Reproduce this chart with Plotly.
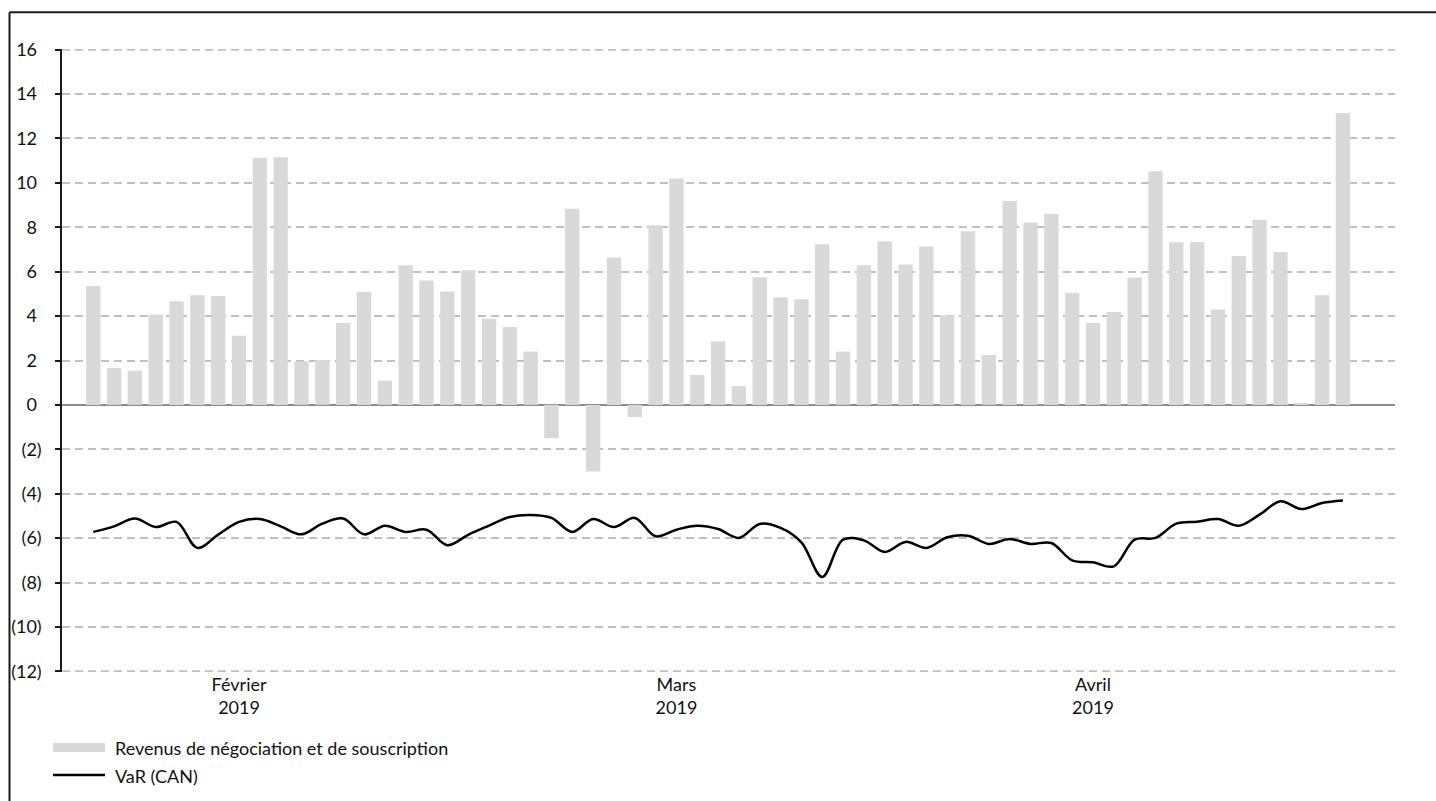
import pandas as pd
import plotly.graph_objects as go

# Trading days (Canada) Feb-Apr 2019: weekdays minus Family Day and Good Friday
jours = [d.strftime("%Y-%m-%d") for d in pd.bdate_range("2019-02-01", "2019-04-30")
         if d.strftime("%Y-%m-%d") not in ("2019-02-18", "2019-04-19")]

revenus = [5.35, 1.66, 1.54, 4.07, 4.67, 4.94, 4.91, 3.12, 11.13, 11.15,
           1.96, 2.02, 3.69, 5.09, 1.09, 6.29, 5.60, 5.11, 6.07, 3.88,
           3.51, 2.40, -1.50, 8.84, -3.00, 6.64, -0.55, 8.09, 10.20, 1.35,
           2.86, 0.85, 5.75, 4.85, 4.76, 7.24, 2.40, 6.29, 7.37, 6.32,
           7.13, 4.03, 7.82, 2.25, 9.18, 8.22, 8.61, 5.05, 3.69, 4.19,
           5.74, 10.52, 7.33, 7.33, 4.30, 6.71, 8.34, 6.89, 0.06, 4.94,
           13.15]

var_can = [-5.72, -5.47, -5.12, -5.50, -5.27, -6.44, -5.84, -5.27, -5.14, -5.47,
           -5.83, -5.35, -5.12, -5.83, -5.44, -5.72, -5.62, -6.32, -5.85, -5.44,
           -5.05, -4.96, -5.09, -5.72, -5.14, -5.50, -5.09, -5.92, -5.62, -5.44,
           -5.59, -5.99, -5.36, -5.54, -6.19, -7.75, -6.07, -6.10, -6.62, -6.17,
           -6.44, -5.96, -5.89, -6.26, -6.04, -6.26, -6.22, -7.00, -7.09, -7.27,
           -6.07, -5.99, -5.35, -5.26, -5.14, -5.44, -4.94, -4.34, -4.69, -4.42,
           -4.31]

mois_vals = ["2019-02-12", "2019-03-14", "2019-04-11"]
mois_text = ["Février<br>2019", "Mars<br>2019", "Avril<br>2019"]

y_vals = list(range(-12, 17, 2))
y_text = [f"({abs(v)})" if v < 0 else f"{v}\u00a0" for v in y_vals]

serie_barres = "Revenus de négociation et de souscription"
serie_ligne = "VaR (CAN)"

W, H = 1436, 801
ML, MR, MT, MB = 62, 41, 49, 129
PW, PH = W - ML - MR, H - MT - MB

def px_x(p):
    return (p - ML) / PW

def px_y(p):
    return (H - MB - p) / PH

FONT = "Lato"
FS = 18
TXT = "#111111"
GRID = dict(color="#c0c0c0", width=2, dash="8px,5px")

fig = go.Figure()
fig.add_trace(go.Bar(x=jours, y=revenus, name=serie_barres, marker_color="#d9d9d9",
                     marker_line_width=0, width=0.69, showlegend=False))
fig.add_trace(go.Scatter(x=jours, y=var_can, name=serie_ligne, mode="lines",
                         line=dict(color="#000000", width=2.5, shape="spline", smoothing=1.0),
                         showlegend=False))

fig.update_layout(
    width=W, height=H,
    margin=dict(l=ML, r=MR, t=MT, b=MB, pad=0),
    paper_bgcolor="white", plot_bgcolor="white",
    font=dict(family=FONT, size=FS, color=TXT),
    xaxis=dict(type="category", range=[-1.5, 62.5], tickmode="array",
               tickvals=mois_vals, ticktext=mois_text, showgrid=False,
               showline=False, ticks="", zeroline=False,
               tickfont=dict(family=FONT, size=FS, color=TXT)),
    yaxis=dict(range=[-12.03, 16.03], tickmode="array", tickvals=y_vals, ticktext=y_text,
               showgrid=True, gridcolor=GRID["color"], gridwidth=GRID["width"], griddash=GRID["dash"],
               zeroline=True, zerolinecolor="#8c8c8c", zerolinewidth=1.5,
               showline=True, linecolor="#1a1a1a", linewidth=1.5,
               ticks="outside", ticklen=5, tickcolor="#1a1a1a", tickwidth=1.5,
               ticklabelstandoff=10,
               tickfont=dict(family=FONT, size=FS, color=TXT)),
)

shapes = [
    # edge gridlines (top and bottom ticks)
    dict(type="line", xref="paper", yref="y", x0=0, x1=1, y0=y_vals[-1], y1=y_vals[-1],
         line=GRID, layer="below"),
    dict(type="line", xref="paper", yref="y", x0=0, x1=1, y0=y_vals[0], y1=y_vals[0],
         line=GRID, layer="below"),
    # frame (top and left)
    dict(type="line", xref="paper", yref="paper", x0=px_x(9.5), x1=px_x(W), y0=px_y(12.3), y1=px_y(12.3),
         line=dict(color="#1a1a1a", width=2)),
    dict(type="line", xref="paper", yref="paper", x0=px_x(9.5), x1=px_x(9.5), y0=px_y(12.3), y1=px_y(H),
         line=dict(color="#1a1a1a", width=2)),
    # legend swatches
    dict(type="rect", xref="paper", yref="paper", x0=px_x(53), x1=px_x(105), y0=px_y(743), y1=px_y(752),
         fillcolor="#d9d9d9", line=dict(width=0)),
    dict(type="line", xref="paper", yref="paper", x0=px_x(53), x1=px_x(105), y0=px_y(775), y1=px_y(775),
         line=dict(color="#000000", width=2.5)),
]
annotations = [
    dict(text=serie_barres, xref="paper", yref="paper", x=px_x(113), y=px_y(748),
         xanchor="left", yanchor="middle", showarrow=False,
         font=dict(family=FONT, size=FS, color=TXT)),
    dict(text=serie_ligne, xref="paper", yref="paper", x=px_x(113), y=px_y(776),
         xanchor="left", yanchor="middle", showarrow=False,
         font=dict(family=FONT, size=FS, color=TXT)),
]
fig.update_layout(shapes=shapes, annotations=annotations)

fig.write_html("out.html")
